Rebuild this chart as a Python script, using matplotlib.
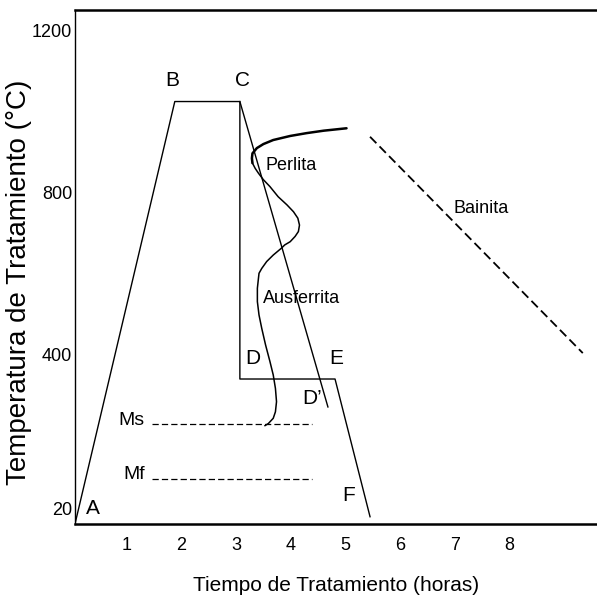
import matplotlib.pyplot as plt
import numpy as np

# heat-treatment path (time in hours, temperature in degC)
path_x = [0.06, 1.88, 3.07, 3.07, 4.81, 5.45]
path_t = [-15, 1025, 1025, 340, 340, 0]
# slow cooling branch C -> D'
cd_x = [3.07, 4.68]
cd_t = [1025, 271]

# TTT curve (perlite nose + ausferrite bay)
ttt_x = [5.02, 4.60, 4.29, 3.99, 3.68, 3.50, 3.38, 3.30, 3.29, 3.30, 3.35,
         3.41, 3.50, 3.62, 3.77, 3.93, 4.05, 4.13, 4.16, 4.14, 4.08, 3.99,
         3.89, 3.83, 3.68, 3.56, 3.47, 3.42, 3.41, 3.39, 3.39, 3.42, 3.47,
         3.54, 3.62, 3.68, 3.72, 3.74, 3.72, 3.68, 3.59, 3.53]
ttt_t = [959, 953, 947, 940, 930, 920, 910, 897, 885, 873, 860,
         848, 832, 815, 790, 770, 753, 737, 720, 704, 692, 679,
         671, 663, 646, 630, 613, 601, 589, 564, 531, 498, 465,
         424, 383, 350, 317, 284, 259, 243, 230, 225]

# bainite line
bai_x = [5.45, 9.34]
bai_t = [938, 404]

# martensite start / finish
ms_t = 229
mf_t = 93
m_x = [1.46, 4.39]

xticks = [1, 2, 3, 4, 5, 6, 7, 8]
yticks = [20, 400, 800, 1200]

plt.rcParams['font.family'] = ['Liberation Sans', 'DejaVu Sans']

fig = plt.figure(figsize=(5.97, 5.98), dpi=100)
ax = fig.add_axes([0.1256, 0.1237, 0.8744, 0.8596])

ax.plot(path_x, path_t, 'k-', lw=1.0)
ax.plot(cd_x, cd_t, 'k-', lw=1.0)
ax.plot(ttt_x[:10], ttt_t[:10], 'k-', lw=1.8, solid_capstyle='round')
ax.plot(ttt_x[9:], ttt_t[9:], 'k-', lw=1.1)
ax.plot(bai_x, bai_t, 'k', lw=1.3, dashes=(5, 2.5))
ax.plot(m_x, [ms_t, ms_t], 'k', lw=0.9, dashes=(5, 2.5))
ax.plot(m_x, [mf_t, mf_t], 'k', lw=0.9, dashes=(5, 2.5))

# point letters
for s, x, t in [('A', 0.38, 21), ('B', 1.83, 1078), ('C', 3.11, 1078),
                ('D', 3.31, 391), ('E', 4.84, 391), ("D’", 4.39, 293),
                ('F', 5.05, 53)]:
    ax.text(x, t, s, fontsize=15, ha='center', va='center')

ax.text(3.53, 868, 'Perlita', fontsize=13, ha='left', va='center')
ax.text(3.50, 539, 'Ausferrita', fontsize=13, ha='left', va='center')
ax.text(6.97, 762, 'Bainita', fontsize=13, ha='left', va='center')
ax.text(1.33, 238, 'Ms', fontsize=14, ha='right', va='center')
ax.text(1.33, 105, 'Mf', fontsize=14, ha='right', va='center')

ax.set_xlim(0.055, 9.6)
ax.set_ylim(-18, 1251)
ax.set_xticks(xticks)
ax.set_yticks(yticks)
ax.tick_params(axis='x', length=0, pad=9, labelsize=13)
ax.tick_params(axis='y', length=0, pad=2, labelsize=13)
# short inner marks at 400 and 800
ax.set_yticks([400, 800], minor=True)
ax.tick_params(axis='y', which='minor', direction='in', length=12, width=1.0)

ax.spines['right'].set_visible(False)
ax.spines['left'].set_linewidth(1.0)
ax.spines['top'].set_linewidth(1.8)
ax.spines['bottom'].set_linewidth(1.8)

ax.set_xlabel('Tiempo de Tratamiento (horas)', fontsize=15, va='center')
ax.xaxis.set_label_coords(0.5, -0.12)
ax.set_ylabel('Temperatura de Tratamiento (°C)', fontsize=20, va='center')
ax.yaxis.set_label_coords(-0.107, 0.47)

fig.savefig('out.png', dpi=100)
